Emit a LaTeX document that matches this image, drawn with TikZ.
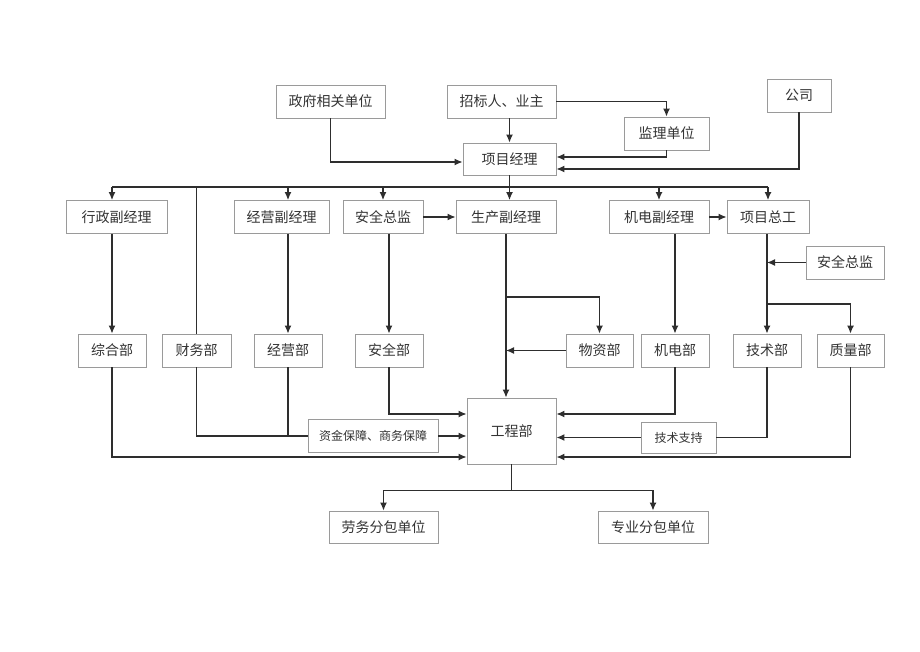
\documentclass[tikz,border=0pt]{standalone}
\usepackage{fontspec}
\setmainfont{Noto Sans CJK SC}
\usetikzlibrary{arrows.meta}
\definecolor{boxgray}{HTML}{9A9A9A}
\definecolor{linegray}{HTML}{2E2E2E}
\definecolor{textgray}{HTML}{333333}

\begin{document}
\begin{tikzpicture}[x=1pt, y=-1pt,
                    box/.style={draw=boxgray, line width=0.9pt, text=textgray,
                      minimum height=33pt, inner sep=2pt,
                      font=\fontsize{14}{16}\selectfont},
                    smallbox/.style={box, font=\fontsize{12}{14}\selectfont},
                    link/.style={draw=linegray, line width=1.2pt},
                    arr/.style={link, -{Latex[length=8pt,width=7pt]}}]
  \useasboundingbox (0,0) rectangle (920,651);
  \node[box, minimum width=109pt] (gov) at (330.5,101.5) {政府相关单位};
  \node[box, minimum width=109pt] (zb) at (501.5,101.5) {招标人、业主};
  \node[box, minimum width=85pt] (jl) at (666.5,133.5) {监理单位};
  \node[box, minimum width=64pt] (gs) at (799,95.5) {公司};
  \node[box, minimum width=93pt, minimum height=32pt] (xm) at (509.5,159) {项目经理};

  \node[box, minimum width=101pt] (xz) at (116.5,217) {行政副经理};
  \node[box, minimum width=95pt] (jy) at (281.5,217) {经营副经理};
  \node[box, minimum width=80pt] (aq) at (383,217) {安全总监};
  \node[box, minimum width=100pt] (sc) at (506,217) {生产副经理};
  \node[box, minimum width=100pt] (jd) at (659,217) {机电副经理};
  \node[box, minimum width=82pt] (zg) at (768,217) {项目总工};
  \node[box, minimum width=78pt] (aq2) at (845,262.5) {安全总监};

  \node[box, minimum width=68pt] (zh) at (112,350.5) {综合部};
  \node[box, minimum width=69pt] (cw) at (196.5,350.5) {财务部};
  \node[box, minimum width=68pt] (jyb) at (288,350.5) {经营部};
  \node[box, minimum width=68pt] (aqb) at (389,350.5) {安全部};
  \node[box, minimum width=67pt] (wz) at (599.5,350.5) {物资部};
  \node[box, minimum width=68pt] (jdb) at (675,350.5) {机电部};
  \node[box, minimum width=68pt] (js) at (767,350.5) {技术部};
  \node[box, minimum width=67pt] (zl) at (850.5,350.5) {质量部};

  \node[box, minimum width=89pt, minimum height=66pt] (gc) at (511.5,431) {工程部};
  \node[smallbox, minimum width=130pt] (zj) at (373,436) {资金保障、商务保障};
  \node[smallbox, minimum width=75pt, minimum height=31pt] (jszc) at (678.5,437.5) {技术支持};
  \node[box, minimum width=109pt, minimum height=32pt] (lw) at (383.5,527) {劳务分包单位};
  \node[box, minimum width=110pt, minimum height=32pt] (zy) at (653,527) {专业分包单位};

  \coordinate (bus) at (0,187);
  \coordinate (br1) at (0,297);
  \coordinate (br2) at (0,304);

  \draw[arr] (xm.north |- zb.south) -- (xm.north);
  \draw[arr] (zb.east) -| (jl.north);
  \draw[arr] (jl.south) |- ([yshift=2pt]xm.east);
  \draw[arr] (gs.south) |- ([yshift=-10pt]xm.east);
  \draw[arr] (gov.south) |- ([yshift=-3pt]xm.west);

  \draw[link] (zh.north |- bus) -- (zg.north |- bus);
  \draw[arr] (xm.south) -- (xm.south |- sc.north);
  \draw[arr] (zh.north |- bus) -- (zh.north |- xz.north);
  \draw[arr] (jyb.north |- bus) -- (jyb.north |- jy.north);
  \draw[arr] (aq.north |- bus) -- (aq.north);
  \draw[arr] (jd.north |- bus) -- (jd.north);
  \draw[arr] (zg.north |- bus) -- (zg.north);
  \draw[link] (cw.north |- bus) -- (cw.north);

  \draw[arr] (aq.east) -- (sc.west);
  \draw[arr] (jd.east) -- (zg.west);

  \draw[arr] (zh.north |- xz.south) -- (zh.north);
  \draw[arr] (jyb.north |- jy.south) -- (jyb.north);
  \draw[arr] (aqb.north |- aq.south) -- (aqb.north);
  \draw[arr] (jdb.north |- jd.south) -- (jdb.north);
  \draw[arr] (js.north |- zg.south) -- (js.north);
  \draw[arr] (aq2.west) -- (aq2.west -| js.north);
  \draw[arr] (js.north |- br2) -| (zl.north);

  \draw[arr] (sc.south) -- (sc.south |- gc.north);
  \draw[arr] (sc.south |- br1) -| (wz.north);
  \draw[arr] (wz.west) -- (wz.west -| sc.south);

  \draw[link] (cw.south) |- (zj.west);
  \draw[link] (jyb.south) |- (zj.west);
  \draw[arr] (zj.east) -- (zj.east -| gc.west);
  \draw[arr] (aqb.south) |- ([yshift=17pt]gc.west);
  \draw[arr] (zh.south) |- ([yshift=-26pt]gc.west);

  \draw[arr] (jdb.south) |- ([yshift=17pt]gc.east);
  \draw[link] (js.south) |- (jszc.east);
  \draw[arr] (jszc.west) -- (jszc.west -| gc.east);
  \draw[arr] (zl.south) |- ([yshift=-26pt]gc.east);

  \draw[arr] (gc.south) -- ++(0,26) -| (lw.north);
  \draw[arr] (gc.south) -- ++(0,26) -| (zy.north);
\end{tikzpicture}
\end{document}
